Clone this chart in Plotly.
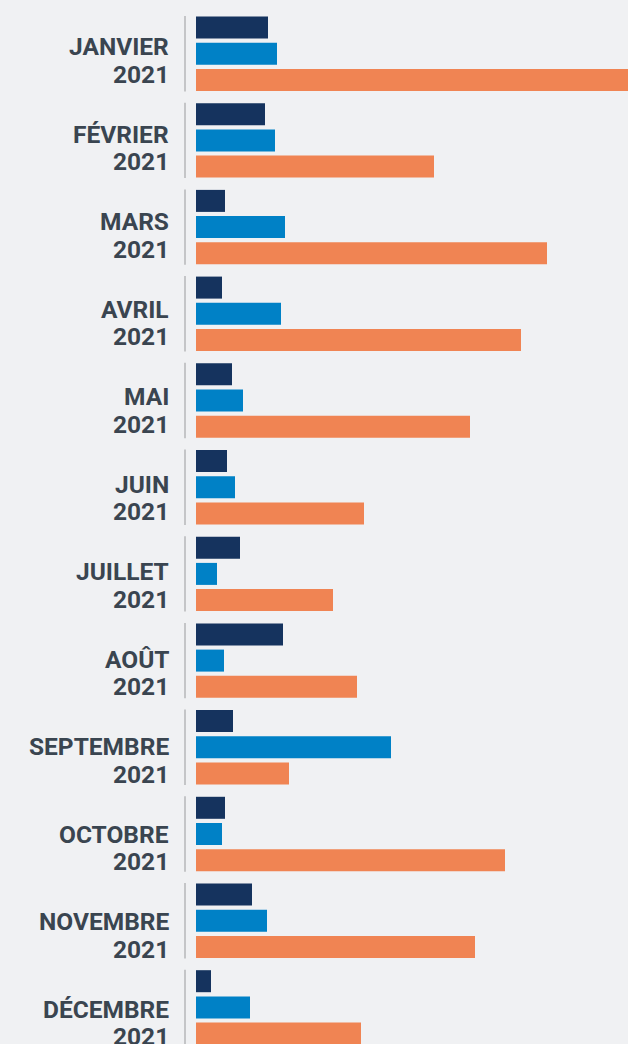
import plotly.graph_objects as go

months = ["JANVIER", "FÉVRIER", "MARS", "AVRIL", "MAI", "JUIN", "JUILLET",
          "AOÛT", "SEPTEMBRE", "OCTOBRE", "NOVEMBRE", "DÉCEMBRE"]
year_label = "2021"

# values (arbitrary units)
series_dark = [72, 69, 29, 26, 36, 31, 44, 87, 37, 29, 56, 15]
series_blue = [81, 79, 89, 85, 47, 39, 21, 28, 195, 26, 71, 54]
series_orange = [440, 238, 351, 325, 274, 168, 137, 161, 93, 309, 279, 165]

colors = ["#15335E", "#0081C6", "#F08453"]
bg = "#F0F1F3"
text_color = "#3A4550"

W, H = 628, 1044
ml = 196
plot_w = W - ml
pitch = 86.7          # px per group (bars)
first_center = 53.7   # px, centre of first bar group
label_pitch = 87.5    # px per group (labels)
label_first = 46.5    # px, centre of first month label
line_gap = 27.5       # px between month and year lines
x_max = 432

pos = list(range(len(months)))

fig = go.Figure()
for vals, col in zip([series_dark, series_blue, series_orange], colors):
    fig.add_trace(go.Bar(
        x=vals, y=pos, orientation="h",
        marker=dict(color=col, line=dict(width=0)),
        hoverinfo="skip", showlegend=False,
    ))

shapes = []
annotations = []
line_x = (185 - ml) / plot_w
text_x = (171 - ml) / plot_w
font = dict(family="Roboto", size=24.5, color=text_color, weight="bold")
for i, m in enumerate(months):
    shapes.append(dict(type="line", xref="paper", yref="y",
                       x0=line_x, x1=line_x, y0=i - 0.435, y1=i + 0.435,
                       line=dict(color="#C4C5C7", width=2)))
    px_month = label_first + label_pitch * i
    px_year = px_month + line_gap
    annotations.append(dict(xref="paper", yref="y", x=text_x,
                            y=(px_month - first_center) / pitch,
                            text=m, showarrow=False, xanchor="right",
                            yanchor="middle", font=font))
    annotations.append(dict(xref="paper", yref="y", x=text_x,
                            y=(px_year - first_center) / pitch,
                            text=year_label, showarrow=False, xanchor="right",
                            yanchor="middle", font=font))

y_top = -first_center / pitch
y_bottom = (H - first_center) / pitch

fig.update_layout(
    width=W, height=H,
    margin=dict(l=ml, r=0, t=0, b=0, pad=0),
    paper_bgcolor=bg, plot_bgcolor=bg,
    barmode="group", bargap=0.0934, bargroupgap=0.16,
    xaxis=dict(range=[0, x_max], visible=False, fixedrange=True),
    yaxis=dict(range=[y_bottom, y_top], visible=False, fixedrange=True),
    shapes=shapes, annotations=annotations,
)

fig.write_html(
    "out.html",
    config={"displayModeBar": False},
    post_script="document.body.style.margin='0';document.body.style.overflow='hidden';",
)
